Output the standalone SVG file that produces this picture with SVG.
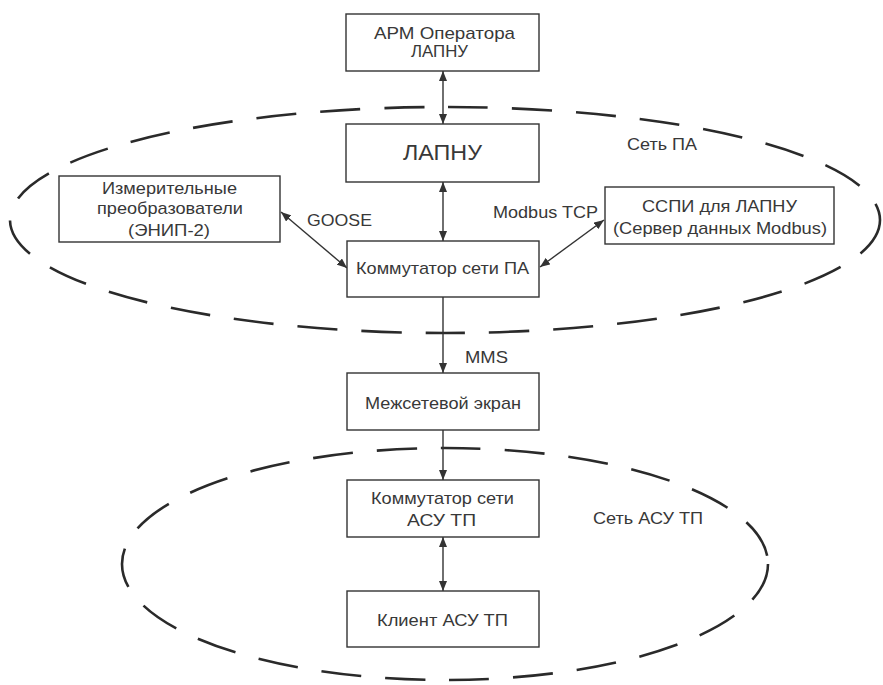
<svg xmlns="http://www.w3.org/2000/svg" width="883" height="685" viewBox="0 0 883 685">
<style>
.box{fill:#fff;stroke:#333;stroke-width:1.4}
.net{fill:none;stroke:#2a2a2a;stroke-width:2.6;stroke-dasharray:40 24}
.ln{fill:none;stroke:#333;stroke-width:1.4}
text{font-family:"Liberation Sans",Arial,sans-serif;font-size:17px;fill:#383838}
.big{font-size:22px}
</style>
<defs>
<marker id="ah" viewBox="0 0 10 8" refX="10" refY="4" markerWidth="10" markerHeight="8" markerUnits="userSpaceOnUse" orient="auto-start-reverse">
<path d="M0,0 L10,4 L0,8 Z" fill="#333"/>
</marker>
</defs>
<rect width="883" height="685" fill="#fff"/>
<g id="networks">
<ellipse class="net" cx="445" cy="220" rx="435" ry="113"/>
<ellipse class="net" cx="445" cy="564" rx="323" ry="116"/>
<text x="627" y="150" textLength="70" lengthAdjust="spacingAndGlyphs">Сеть ПА</text>
<text x="593" y="524" textLength="110" lengthAdjust="spacingAndGlyphs">Сеть АСУ ТП</text>
</g>
<g id="connectors">
<line class="ln" x1="443" y1="71" x2="443" y2="124" marker-start="url(#ah)" marker-end="url(#ah)"/>
<line class="ln" x1="443" y1="182" x2="443" y2="241" marker-start="url(#ah)" marker-end="url(#ah)"/>
<line class="ln" x1="281" y1="212" x2="347" y2="268" marker-start="url(#ah)" marker-end="url(#ah)"/>
<line class="ln" x1="540" y1="267" x2="604" y2="220" marker-start="url(#ah)" marker-end="url(#ah)"/>
<line class="ln" x1="443" y1="297" x2="443" y2="373" marker-end="url(#ah)"/>
<line class="ln" x1="443" y1="430" x2="443" y2="480" marker-end="url(#ah)"/>
<line class="ln" x1="443" y1="537" x2="443" y2="591" marker-start="url(#ah)" marker-end="url(#ah)"/>
<text x="307" y="226" textLength="65" lengthAdjust="spacingAndGlyphs">GOOSE</text>
<text x="493" y="218" textLength="105" lengthAdjust="spacingAndGlyphs">Modbus TCP</text>
<text x="465" y="363" textLength="43" lengthAdjust="spacingAndGlyphs">MMS</text>
</g>
<g id="arm">
<rect class="box" x="346" y="14" width="193" height="57"/>
<text x="374" y="39" textLength="141" lengthAdjust="spacingAndGlyphs">АРМ Оператора</text>
<text x="411" y="57" textLength="57" lengthAdjust="spacingAndGlyphs">ЛАПНУ</text>
</g>
<g id="lapnu">
<rect class="box" x="346" y="124" width="193" height="58"/>
<text class="big" x="403" y="160" textLength="79" lengthAdjust="spacingAndGlyphs">ЛАПНУ</text>
</g>
<g id="enip">
<rect class="box" x="59" y="176" width="221" height="66"/>
<text x="102" y="194" textLength="135" lengthAdjust="spacingAndGlyphs">Измерительные</text>
<text x="97" y="214" textLength="146" lengthAdjust="spacingAndGlyphs">преобразователи</text>
<text x="128" y="236" textLength="82" lengthAdjust="spacingAndGlyphs">(ЭНИП-2)</text>
</g>
<g id="sspi">
<rect class="box" x="605" y="187" width="229" height="57"/>
<text x="642" y="212" textLength="155" lengthAdjust="spacingAndGlyphs">ССПИ для ЛАПНУ</text>
<text x="613" y="234" textLength="214" lengthAdjust="spacingAndGlyphs">(Сервер данных Modbus)</text>
</g>
<g id="switch-pa">
<rect class="box" x="347" y="241" width="192" height="56"/>
<text x="356" y="274" textLength="173" lengthAdjust="spacingAndGlyphs">Коммутатор сети ПА</text>
</g>
<g id="firewall">
<rect class="box" x="347" y="373" width="192" height="57"/>
<text x="365" y="409" textLength="156" lengthAdjust="spacingAndGlyphs">Межсетевой экран</text>
</g>
<g id="switch-asu">
<rect class="box" x="347" y="480" width="192" height="57"/>
<text x="371" y="504" textLength="143" lengthAdjust="spacingAndGlyphs">Коммутатор сети</text>
<text x="407" y="526" textLength="69" lengthAdjust="spacingAndGlyphs">АСУ ТП</text>
</g>
<g id="client">
<rect class="box" x="347" y="591" width="192" height="56"/>
<text x="377" y="626" textLength="131" lengthAdjust="spacingAndGlyphs">Клиент АСУ ТП</text>
</g>
</svg>
